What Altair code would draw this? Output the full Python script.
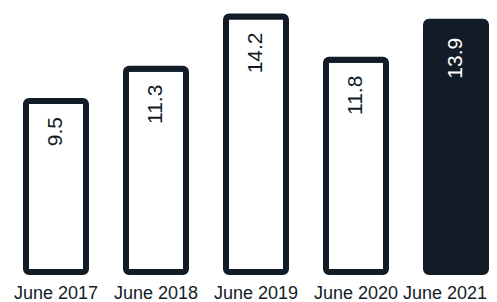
import altair as alt
import pandas as pd

periods = ["June 2017", "June 2018", "June 2019", "June 2020", "June 2021"]
values = [9.5, 11.3, 14.2, 11.8, 13.9]
highlight = [False, False, False, False, True]

df = pd.DataFrame({"period": periods, "value": values, "hl": highlight})

DARK = "#121c27"

x = alt.X("period:N", sort=periods, title=None,
          scale=alt.Scale(paddingInner=0.4, paddingOuter=0.105, align=0.857),
          axis=alt.Axis(labelAngle=0, ticks=False, domain=False, labelPadding=12,
                        labelOffset={"condition": {"test": "datum.label == 'June 2021'", "value": -11},
                                     "value": 0},
                        labelFontSize=18, labelFont="Liberation Sans", labelColor=DARK))
y = alt.Y("value:Q", scale=alt.Scale(domain=[0, 14.67], nice=False, zero=True), axis=None)

bars = alt.Chart(df).mark_bar(stroke=DARK, strokeWidth=6, cornerRadius=3, strokeJoin="round").encode(
    x=x, y=y,
    fill=alt.condition("datum.hl", alt.value(DARK), alt.value("white")),
)

labels = alt.Chart(df).mark_text(angle=270, align="right", baseline="middle", dx=-16,
                                 fontSize=21, font="Liberation Sans").encode(
    x=x, y=y,
    text=alt.Text("value:Q", format=".1f"),
    color=alt.condition("datum.hl", alt.value("white"), alt.value(DARK)),
)

chart = (bars + labels).properties(
    width=481, height=264,
    padding={"left": 0, "right": 0, "top": 0, "bottom": 30},
    autosize=alt.AutoSizeParams(type="none"),
).configure_view(stroke=None)

chart.save("out.html", embed_options={"renderer": "svg", "actions": False})
